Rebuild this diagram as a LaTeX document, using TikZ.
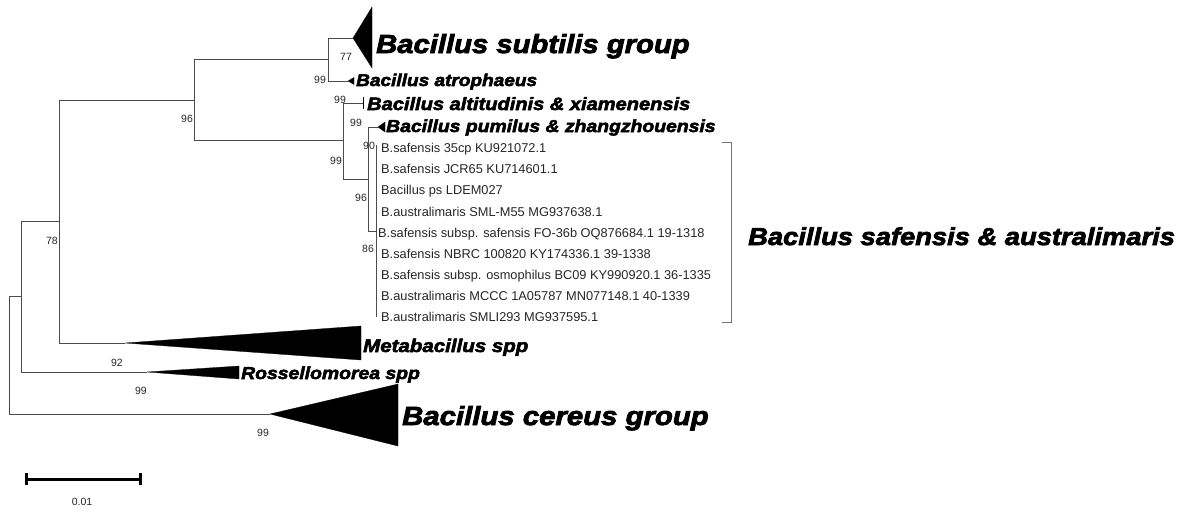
\documentclass[tikz,border=0pt]{standalone}
\usepackage{fontspec}
\setmainfont{Liberation Sans}
\newfontfamily\cladefont[FakeStretch=1.12, FakeBold=3]{Liberation Sans}
\usetikzlibrary{positioning, calc}
\tikzset{
  branch/.style={draw=black!70, line width=0.9pt},
  collapsed/.style={fill=black, draw=black, line width=0.3pt},
  cladename/.style={anchor=base west, inner sep=0pt,
    font=\cladefont\bfseries\itshape},
  leaf/.style={anchor=base west, inner sep=0pt, text=black!85,
    font=\fontsize{12.8}{15}\selectfont},
  boot/.style={inner sep=0pt, font=\fontsize{10.5}{12}\selectfont, text=black!85},
  bracketline/.style={draw=black!55, line width=0.9pt},
  scalebar/.style={draw=black, line width=3pt},
}

\begin{document}
\begin{tikzpicture}[x=1pt, y=-1pt]
\useasboundingbox (0,0) rectangle (1184,512);

% internal nodes
\coordinate (root) at (9,355.5);
\coordinate (n92)  at (21,296.5);
\coordinate (n78)  at (59,221.5);
\coordinate (n96)  at (194,100);
\coordinate (n77)  at (328,59.5);
\coordinate (n99b) at (343,140.5);
\coordinate (n96c) at (368,179.5);
\coordinate (n90)  at (376,231);
\coordinate (n90top) at (376,145);
\coordinate (n90bot) at (376,317);

% tips of collapsed clades
\coordinate (subA)  at (353,38);
\coordinate (atroA) at (348,81);
\coordinate (altiA) at (363,103);
\coordinate (pumA)  at (378,127);
\coordinate (metaA) at (125,343);
\coordinate (rossA) at (147,372);
\coordinate (cerA)  at (270,414);

\draw[branch] (root) |- (n92);
\draw[branch] (root) |- (cerA);
\draw[branch] (n92) |- (n78);
\draw[branch] (n92) |- (rossA);
\draw[branch] (n78) |- (n96);
\draw[branch] (n78) |- (metaA);
\draw[branch] (n96) |- (n77);
\draw[branch] (n96) |- (n99b);
\draw[branch] (n77) |- (subA);
\draw[branch] (n77) |- (atroA);
\draw[branch] (n99b) |- (altiA);
\draw[branch] (n99b) |- (n96c);
\draw[branch] (n96c) |- (pumA);
\draw[branch] (n96c) |- (n90);
\draw[branch] (n90top) -- (n90bot);

% collapsed clades
\fill[collapsed] (subA) -- (372,7) -- (372,68) -- cycle;
\fill[collapsed] (atroA) -- (354,77.5) -- (354,84.5) -- cycle;
\draw[branch, draw=black] (363.5,97) -- (363.5,109);
\fill[collapsed] (pumA) -- (385,122) -- (385,132) -- cycle;
\fill[collapsed] (metaA) -- (361,326) -- (361,360) -- cycle;
\fill[collapsed] (rossA) -- (239,366) -- (239,379) -- cycle;
\fill[collapsed] (cerA) -- (398,384) -- (398,446) -- cycle;

\node (subtilis) [cladename, font=\cladefont\bfseries\itshape\fontsize{26.1}{28}\selectfont]
  at (376,53) {Bacillus subtilis group};
\node (atroph) [cladename, font=\cladefont\bfseries\itshape\fontsize{17}{19}\selectfont]
  at (356,86) {Bacillus atrophaeus};
\node (altit) [cladename, font=\cladefont\bfseries\itshape\fontsize{17.9}{19}\selectfont]
  at (367,110) {Bacillus altitudinis \& xiamenensis};
\node (pumil) [cladename, font=\cladefont\bfseries\itshape\fontsize{17.3}{19}\selectfont]
  at (386,132) {Bacillus pumilus \& zhangzhouensis};
\node (metab) [cladename, font=\cladefont\bfseries\itshape\fontsize{18.3}{19}\selectfont]
  at (363,352) {Metabacillus spp};
\node (rossel) [cladename, font=\cladefont\bfseries\itshape\fontsize{17.3}{19}\selectfont]
  at (241,379) {Rossellomorea spp};
\node (cereus) [cladename, font=\cladefont\bfseries\itshape\fontsize{26.2}{28}\selectfont]
  at (402,425) {Bacillus cereus group};
\node (safaus) [cladename, font=\cladefont\bfseries\itshape\fontsize{24.4}{26}\selectfont]
  at (748,245) {Bacillus safensis \& australimaris};

% leaves of the safensis / australimaris clade
\node (s35cp)  [leaf] at (381,152.7) {B.safensis 35cp KU921072.1};
\node (jcr65)  [leaf] at (381,173.8) {B.safensis JCR65 KU714601.1};
\node (ldem)   [leaf] at (381,194.9) {Bacillus ps LDEM027};
\node (smlm55) [leaf] at (381,216.0) {B.australimaris SML-M55 MG937638.1};
\node (fo36b)  [leaf] at (378,237.1) {B.safensis subsp. safensis FO-36b OQ876684.1 19-1318};
\node (nbrc)   [leaf] at (381,258.2) {B.safensis NBRC 100820 KY174336.1 39-1338};
\node (bc09)   [leaf] at (381,279.3) {B.safensis subsp. osmophilus BC09 KY990920.1 36-1335};
\node (mccc)   [leaf] at (381,300.4) {B.australimaris MCCC 1A05787 MN077148.1 40-1339};
\node (smli)   [leaf] at (381,321.5) {B.australimaris SMLI293 MG937595.1};

\draw[bracketline] (722,142) -- (731,142) -- (731,322) -- (722,322);

% bootstrap values
\node (b78)  [boot] at (52,241)  {78};
\node (b96)  [boot] at (187,119) {96};
\node (b77)  [boot] at (346,57)  {77};
\node (b99a) [boot] at (320,80)  {99};
\node (b99b) [boot] at (340,100) {99};
\node (b99c) [boot] at (356,123) {99};
\node (b99d) [boot] at (336,161) {99};
\node (b96c) [boot] at (361,198) {96};
\node (b90)  [boot] at (369,146) {90};
\node (b86)  [boot] at (368,249) {86};
\node (b92)  [boot] at (117,363) {92};
\node (b99e) [boot] at (141,391) {99};
\node (b99f) [boot] at (263,433) {99};

% scale
\coordinate (sbL) at (26,479);
\coordinate (sbR) at (140,479);
\draw[scalebar] (sbL) -- (sbR);
\draw[scalebar] ($(sbL)+(0,-6)$) -- ($(sbL)+(0,6)$);
\draw[scalebar] ($(sbR)+(0,-6)$) -- ($(sbR)+(0,6)$);
\node (sblabel) [boot] at (82,502) {0.01};

\end{tikzpicture}
\end{document}
